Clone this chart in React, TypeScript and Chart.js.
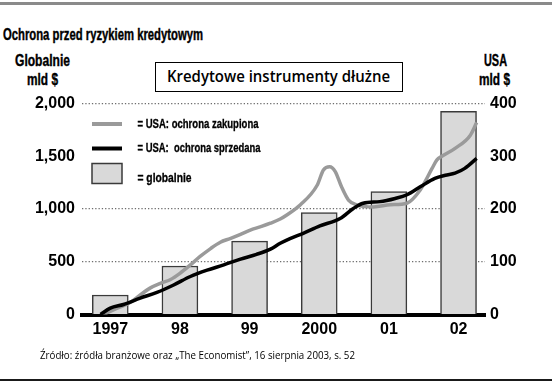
import React, { useEffect, useRef } from "react";
import { Chart, registerables } from "chart.js";

Chart.register(...registerables);

// ---- data ----
const years = [1997, 1998, 1999, 2000, 2001, 2002];
const yearLabels = ["1997", "98", "99", "2000", "01", "02"];
const globalValues = [185, 460, 695, 965, 1165, 1925];

const leftTicks = [0, 500, 1000, 1500, 2000];
const leftTickLabels = ["0", "500", "1,000", "1,500", "2,000"];
const rightTicks = [0, 100, 200, 300, 400];
const rightTickLabels = ["0", "100", "200", "300", "400"];

const boughtTimes = [
  1996.9, 1997.1, 1997.29, 1997.43, 1997.57, 1997.72, 1997.86, 1998.0, 1998.15, 1998.29,
  1998.44, 1998.58, 1998.72, 1998.87, 1999.01, 1999.15, 1999.3, 1999.44, 1999.54, 1999.73,
  1999.97, 2000.06, 2000.15, 2000.23, 2000.32, 2000.42, 2000.54, 2000.78, 2001.02, 2001.26,
  2001.45, 2001.52, 2001.62, 2001.69, 2001.76, 2001.95, 2002.17, 2002.26,
];
const boughtValues = [
  0, 12, 23, 37, 50, 59, 66, 78, 94, 110,
  125, 137, 144, 152, 160, 166, 173, 181, 189, 208,
  245, 274, 280, 271, 242, 217, 208, 204, 208, 211,
  236, 252, 277, 293, 300, 315, 340, 364,
];

const soldTimes = [
  1996.86, 1997.0, 1997.19, 1997.43, 1997.67, 1997.91, 1998.15, 1998.39, 1998.63, 1998.87,
  1999.1, 1999.3, 1999.44, 1999.58, 1999.77, 2000.01, 2000.3, 2000.49, 2000.63, 2000.87,
  2001.09, 2001.26, 2001.45, 2001.66, 2001.81, 2001.95, 2002.09, 2002.26,
];
const soldValues = [
  0, 12, 19, 31, 42, 56, 72, 84, 94, 105,
  114, 124, 135, 144, 154, 168, 182, 201, 211, 214,
  220, 227, 242, 258, 264, 268, 277, 296,
];

const seriesLabels = ["globalnie", "USA: ochrona zakupiona", "USA:  ochrona sprzedana"];

// ---- styles ----
const BOLD = '"Liberation Sans", Arial, sans-serif';
const SANS = '"Open Sans", "Noto Sans", sans-serif';
const BAR_FILL = "#d9d9d9";
const BAR_BORDER = "#3a3a3a";
const GRAY_LINE = "#9a9a9a";
const BLACK_LINE = "#000000";
const X_MIN = 1996.594;
const X_MAX = 2002.38;

let measureCtx: CanvasRenderingContext2D | null = null;
function measure(text: string, font: string): number {
  if (!measureCtx) measureCtx = document.createElement("canvas").getContext("2d");
  measureCtx!.font = font;
  return measureCtx!.measureText(text).width || 1;
}

function FitText(props: {
  text: string;
  font: string;
  width: number;
  left: number;
  top: number;
  lineHeight?: number;
  stroke?: number;
}) {
  const w = measure(props.text, props.font);
  const sx = props.width / w;
  return (
    <div
      style={{
        position: "absolute",
        left: props.left,
        top: props.top,
        font: props.font,
        lineHeight: (props.lineHeight ?? 20) + "px",
        whiteSpace: "nowrap",
        transform: `scaleX(${sx})`,
        transformOrigin: "left top",
        color: "#000",
        WebkitTextStroke: props.stroke ? `${props.stroke}px #000` : undefined,
      }}
    >
      {props.text}
    </div>
  );
}

const legendPlugin = {
  id: "insideLegend",
  afterDraw(chart: any) {
    const ctx = chart.ctx;
    const ds = chart.data.datasets;
    const rows = [
      { idx: 1, kind: "line", y: 124, w: 121 },
      { idx: 2, kind: "line", y: 148.5, w: 123 },
      { idx: 0, kind: "box", y: 173.5, w: 54 },
    ];
    const font = `bold 13.5px ${BOLD}`;
    ctx.save();
    ctx.textBaseline = "middle";
    for (const r of rows) {
      const d = ds[r.idx];
      if (r.kind === "line") {
        ctx.strokeStyle = d.borderColor;
        ctx.lineWidth = 4;
        ctx.beginPath();
        ctx.moveTo(92, r.y);
        ctx.lineTo(122, r.y);
        ctx.stroke();
      } else {
        ctx.fillStyle = d.backgroundColor;
        ctx.fillRect(92, r.y - 10, 30, 20);
        ctx.strokeStyle = d.borderColor;
        ctx.lineWidth = 1.5;
        ctx.strokeRect(92, r.y - 10, 30, 20);
      }
      const text = "= " + d.label;
      ctx.font = font;
      const tw = ctx.measureText(text).width || 1;
      ctx.save();
      ctx.translate(137.5, r.kind === "box" ? r.y + 4.5 : r.y);
      ctx.scale(r.w / tw, 1);
      ctx.fillStyle = "#000";
      ctx.strokeStyle = "#000";
      ctx.lineWidth = 0.35;
      ctx.fillText(text, 0, 0);
      ctx.strokeText(text, 0, 0);
      ctx.restore();
    }
    ctx.restore();
  },
};

export default function App() {
  const ref = useRef<HTMLCanvasElement | null>(null);

  useEffect(() => {
    if (!ref.current) return;
    const tickFont = { family: BOLD, size: 16, weight: "bold" as const };
    const chart = new Chart(ref.current, {
      type: "bar",
      data: {
        datasets: [
          {
            type: "bar",
            label: seriesLabels[0],
            data: years.map((y, i) => ({ x: y, y: globalValues[i] })),
            backgroundColor: BAR_FILL,
            borderColor: BAR_BORDER,
            borderWidth: 1.5,
            barThickness: 36,
            xAxisID: "x",
            yAxisID: "y",
            order: 3,
          } as any,
          {
            type: "line",
            label: seriesLabels[1],
            data: boughtTimes.map((t, i) => ({ x: t, y: boughtValues[i] })),
            borderColor: GRAY_LINE,
            borderWidth: 3.5,
            pointRadius: 0,
            cubicInterpolationMode: "monotone",
            fill: false,
            xAxisID: "x",
            yAxisID: "y1",
            order: 2,
          } as any,
          {
            type: "line",
            label: seriesLabels[2],
            data: soldTimes.map((t, i) => ({ x: t, y: soldValues[i] })),
            borderColor: BLACK_LINE,
            borderWidth: 3.5,
            pointRadius: 0,
            cubicInterpolationMode: "monotone",
            fill: false,
            xAxisID: "x",
            yAxisID: "y1",
            order: 1,
          } as any,
        ],
      },
      options: {
        responsive: false,
        animation: false,
        devicePixelRatio: 1,
        layout: { padding: { top: 103.5, bottom: 39.5, left: 0, right: 0 } },
        plugins: { legend: { display: false }, tooltip: { enabled: false }, title: { display: false } },
        scales: {
          x: {
            type: "linear",
            position: "bottom",
            bounds: "data",
            offset: false,
            min: X_MIN,
            max: X_MAX,
            z: 1,
            grid: { display: false, drawTicks: false, offset: false },
            border: { display: true, color: "#000", width: 4 },
            afterBuildTicks: (s: any) => {
              s.ticks = years.map((v) => ({ value: v }));
              s.min = X_MIN;
              s.max = X_MAX;
            },
            afterFit: (s: any) => {
              s.height = 30;
            },
            ticks: {
              padding: 5,
              color: "#000",
              font: tickFont,
              maxRotation: 0,
              autoSkip: false,
              callback: (v: any) => yearLabels[years.indexOf(Number(v))] ?? "",
            },
          },
          y: {
            type: "linear",
            position: "left",
            min: 0,
            max: 2000,
            grid: {
              drawTicks: false,
              lineWidth: 1.2,
              color: (c: any) =>
                c.tick && (c.tick.value === 1500 || c.tick.value === 0) ? "rgba(0,0,0,0)" : "#6e6e6e",
            },
            border: { display: false, dash: [1.3, 2] },
            afterBuildTicks: (s: any) => {
              s.ticks = leftTicks.map((v) => ({ value: v }));
            },
            afterFit: (s: any) => {
              s.width = 82;
            },
            ticks: {
              padding: 7,
              color: "#000",
              font: tickFont,
              callback: (v: any) => leftTickLabels[leftTicks.indexOf(Number(v))] ?? "",
            },
          },
          y1: {
            type: "linear",
            position: "right",
            min: 0,
            max: 400,
            grid: { display: false, drawTicks: false },
            border: { display: false },
            afterBuildTicks: (s: any) => {
              s.ticks = rightTicks.map((v) => ({ value: v }));
            },
            afterFit: (s: any) => {
              s.width = 67;
            },
            ticks: {
              padding: 5,
              color: "#000",
              font: tickFont,
              callback: (v: any) => rightTickLabels[rightTicks.indexOf(Number(v))] ?? "",
            },
          },
        },
      } as any,
      plugins: [legendPlugin],
    });
    return () => chart.destroy();
  }, []);

  const hdr = `bold 17px ${BOLD}`;

  return (
    <div style={{ position: "absolute", left: 0, top: 0, width: 552, height: 384, background: "#fff", overflow: "hidden" }}>
      <div style={{ position: "absolute", left: 0, top: 2, width: 552, height: 3, background: "#8a8a8a" }} />
      <FitText text="Ochrona przed ryzykiem kredytowym" font={`bold 16px ${BOLD}`} width={200} left={3} top={25} stroke={0.4} />
      <FitText text="Globalnie" font={hdr} width={55} left={15} top={50.5} stroke={0.4} />
      <FitText text="mld $" font={hdr} width={31} left={26.5} top={70} stroke={0.4} />
      <FitText text="USA" font={hdr} width={23} left={484} top={50.5} stroke={0.4} />
      <FitText text="mld $" font={hdr} width={31} left={479} top={70} stroke={0.4} />
      <div
        style={{
          position: "absolute",
          left: 155,
          top: 62,
          width: 248,
          height: 30,
          boxSizing: "border-box",
          border: "1.5px solid #000",
        }}
      />
      <FitText text="Kredytowe instrumenty dłużne" font={`600 17px ${SANS}`} width={223} left={167} top={64} lineHeight={24} />
      <canvas ref={ref} width={552} height={384} style={{ position: "absolute", left: 0, top: 0, width: 552, height: 384 }} />
      <FitText
        text="Źródło: źródła branżowe oraz „The Economist”, 16 sierpnia 2003, s. 52"
        font={`400 10.5px ${SANS}`}
        width={315}
        left={40}
        top={347.5}
        lineHeight={14}
      />
      <div style={{ position: "absolute", left: 0, top: 379, width: 552, height: 2, background: "#1a1a1a" }} />
    </div>
  );
}
